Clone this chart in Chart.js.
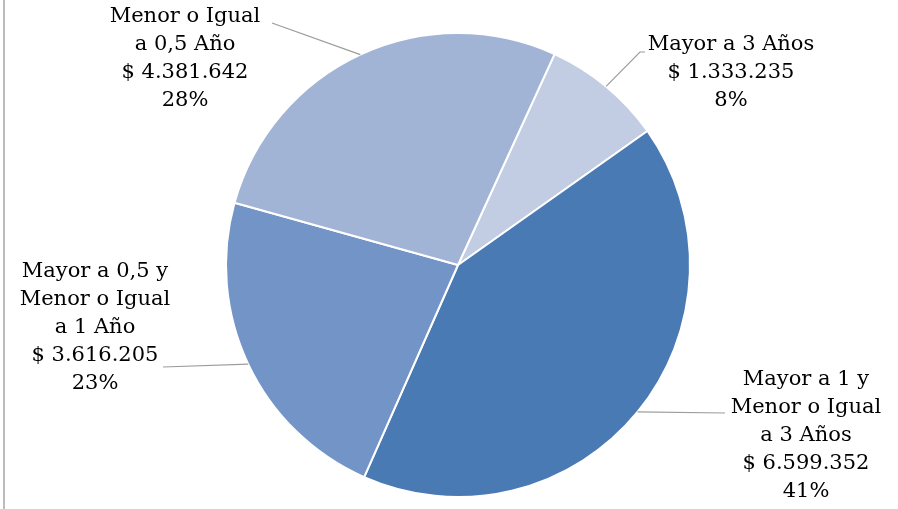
<!DOCTYPE html>
<html>
<head>
<meta charset="utf-8">
<script src="https://cdn.jsdelivr.net/npm/chart.js@4.4.0/dist/chart.umd.min.js"></script>
<style>
  html, body { margin: 0; padding: 0; background: #fff; }
  #wrap { width: 898px; height: 509px; position: relative; }
</style>
</head>
<body>
<div id="wrap"><canvas id="myChart"></canvas></div>
<script>
// datos en orden horario desde la parte superior
const categorias = [
  ["Mayor a 3 Años"],
  ["Mayor a 1 y", "Menor o Igual", "a 3 Años"],
  ["Mayor a 0,5 y", "Menor o Igual", "a 1 Año"],
  ["Menor o Igual", "a 0,5 Año"]
];
const montos = [1333235, 6599352, 3616205, 4381642];
const colores = ["#c2cce2", "#4a7ab4", "#7394c6", "#a2b4d6"];

// posicion de las etiquetas respecto al centro del grafico (texto y codo de la linea guia)
const etiquetaPos = [
  { tx: 273, ty: -220, lx: [182, 187], ly: [-213, -213] },
  { tx: 348, ty: 115, lx: [267], ly: [148] },
  { tx: -363, ty: 7, lx: [-295], ly: [102] },
  { tx: -273, ty: -248, lx: [-186], ly: [-242] }
];

function formatoPesos(n) {
  return "$ " + String(n).replace(/\B(?=(\d{3})+(?!\d))/g, ".");
}

const etiquetas = {
  id: "etiquetas",
  afterDraw(chart) {
    const ctx = chart.ctx;
    const meta = chart.getDatasetMeta(0);
    const total = montos.reduce((a, b) => a + b, 0);
    ctx.save();
    // borde izquierdo
    ctx.strokeStyle = "#a6a6a6";
    ctx.lineWidth = 1.5;
    ctx.beginPath();
    ctx.moveTo(4, 0);
    ctx.lineTo(4, chart.height);
    ctx.stroke();

    meta.data.forEach((arc, i) => {
      const p = arc.getProps(["x", "y", "startAngle", "endAngle", "outerRadius"], true);
      const mid = (p.startAngle + p.endAngle) / 2;
      const pos = etiquetaPos[i];
      // linea guia
      ctx.strokeStyle = "#9c9c9c";
      ctx.lineWidth = 1.2;
      ctx.beginPath();
      ctx.moveTo(p.x + Math.cos(mid) * p.outerRadius, p.y + Math.sin(mid) * p.outerRadius);
      for (let k = 0; k < pos.lx.length; k++) {
        ctx.lineTo(p.x + pos.lx[k], p.y + pos.ly[k]);
      }
      ctx.stroke();
      // texto
      const lineas = categorias[i].concat([formatoPesos(montos[i]), Math.round(montos[i] / total * 100) + "%"]);
      ctx.fillStyle = "#000";
      ctx.font = "21px 'DejaVu Serif'";
      ctx.textAlign = "center";
      ctx.textBaseline = "middle";
      lineas.forEach((t, j) => {
        ctx.fillText(t, p.x + pos.tx, p.y + pos.ty + j * 28);
      });
    });
    ctx.restore();
  }
};

const ctx = document.getElementById("myChart").getContext("2d");
const myChart = new Chart(ctx, {
  type: "pie",
  data: {
    labels: categorias.map(c => c.join(" ")),
    datasets: [
      {
        data: montos,
        backgroundColor: colores,
        borderColor: "#ffffff",
        borderWidth: 2,
      },
    ],
  },
  options: {
    responsive: true,
    maintainAspectRatio: false,
    animation: false,
    rotation: 24.6,
    layout: { padding: { left: 225, right: 207, top: 32, bottom: 11 } },
    plugins: {
      legend: { display: false },
      tooltip: { enabled: false },
    },
  },
  plugins: [etiquetas],
});
</script>
</body>
</html>
